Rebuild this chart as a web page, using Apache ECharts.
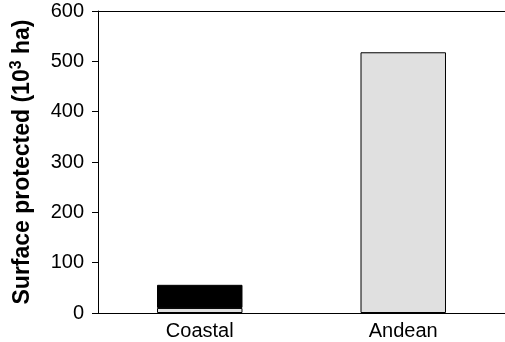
<!DOCTYPE html>
<html>
<head>
<meta charset="utf-8">
<script src="https://cdn.jsdelivr.net/npm/echarts@6/dist/echarts.min.js"></script>
<style>
  html, body { margin: 0; padding: 0; background: #fff; }
  #chart { width: 505px; height: 342px; }
</style>
</head>
<body>
<div id="chart"></div>
<script>
// Surface protected by region (10^3 ha)
const regions = ['Coastal', 'Andean'];
const lowerValues = [10, 518];   // light grey part
const upperValues = [46, null];  // black part stacked on top (none for Andean)
const yTicks = [0, 100, 200, 300, 400, 500, 600];

const chart = echarts.init(document.getElementById('chart'));

const font = 'Liberation Sans, Arial, sans-serif';

const option = {
  animation: false,
  grid: {
    left: 98,
    right: -7,
    top: 11,
    bottom: 29,
  },
  xAxis: [
    {
      type: 'category',
      data: regions,
      axisLine: { lineStyle: { color: '#000', width: 1 } },
      axisTick: { show: false },
      axisLabel: {
        color: '#000',
        fontSize: 20,
        fontFamily: font,
        margin: 8,
      },
    },
    {
      // top frame line
      type: 'category',
      position: 'top',
      data: regions,
      axisLine: { lineStyle: { color: '#000', width: 1 } },
      axisTick: { show: false },
      axisLabel: { show: false },
    },
  ],
  yAxis: {
    type: 'value',
    min: yTicks[0],
    max: yTicks[yTicks.length - 1],
    interval: 100,
    name: '{a|Surface protected (10}{s|3}{a| ha)}',
    nameLocation: 'middle',
    nameGap: 61,
    nameTextStyle: {
      rich: {
        a: { fontSize: 23, fontWeight: 'bold', fontFamily: font, color: '#000' },
        s: { fontSize: 16, fontWeight: 'bold', fontFamily: font, color: '#000', verticalAlign: 'top', lineHeight: 28 },
      },
    },
    axisLine: { show: true, lineStyle: { color: '#000', width: 1 } },
    axisTick: { show: true, length: 6, lineStyle: { color: '#000' } },
    splitLine: { show: false },
    axisLabel: {
      color: '#000',
      fontSize: 20,
      fontFamily: font,
      margin: 14,
    },
  },
  series: [
    {
      type: 'bar',
      stack: 'total',
      data: lowerValues,
      barWidth: '42%',
      itemStyle: { color: '#e0e0e0', borderColor: '#000', borderWidth: 1 },
    },
    {
      type: 'bar',
      stack: 'total',
      data: upperValues,
      itemStyle: { color: '#000', borderColor: '#000', borderWidth: 1 },
    },
  ],
};

chart.setOption(option);
</script>
</body>
</html>
